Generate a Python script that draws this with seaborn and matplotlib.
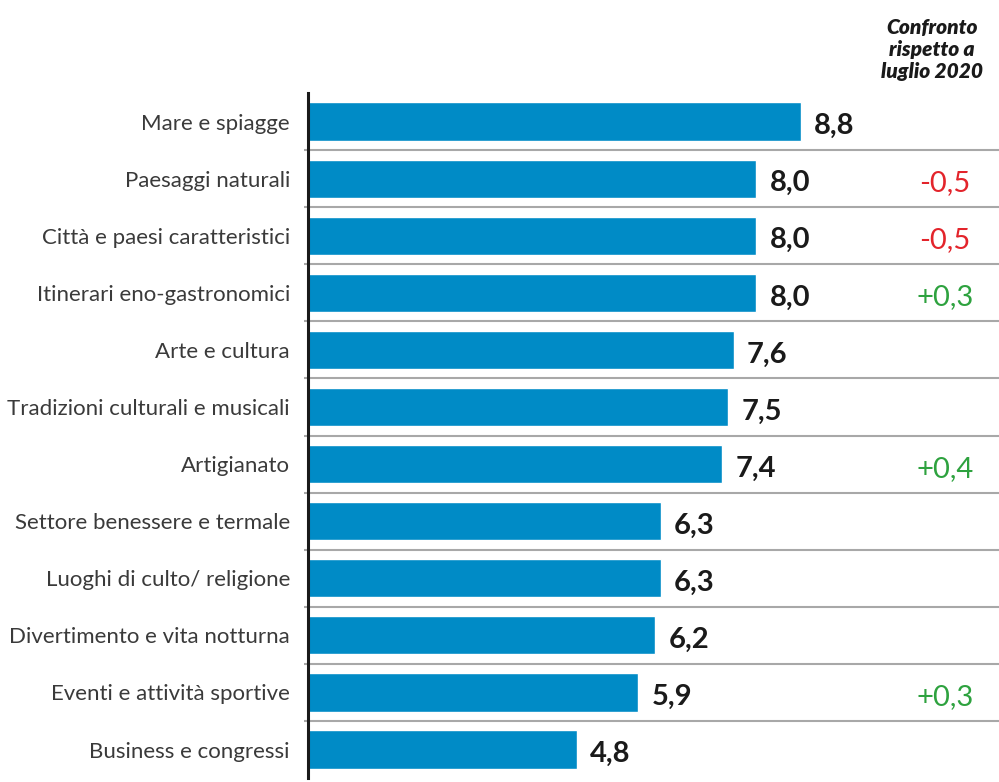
import numpy as np
import pandas as pd
import matplotlib.pyplot as plt
import seaborn as sns

# Data
categories = ['Mare e spiagge', 'Paesaggi naturali', 'Città e paesi caratteristici',
              'Itinerari eno-gastronomici', 'Arte e cultura', 'Tradizioni culturali e musicali',
              'Artigianato', 'Settore benessere e termale', 'Luoghi di culto/ religione',
              'Divertimento e vita notturna', 'Eventi e attività sportive', 'Business e congressi']
scores = [8.8, 8.0, 8.0, 8.0, 7.6, 7.5, 7.4, 6.3, 6.3, 6.2, 5.9, 4.8]
changes = [None, -0.5, -0.5, 0.3, None, None, 0.4, None, None, None, 0.3, None]

df = pd.DataFrame({'categoria': categories, 'punteggio': scores})

sns.set_style('white')
plt.rcParams['font.family'] = ['Lato', 'DejaVu Sans']

fig = plt.figure(figsize=(9.99, 7.82), dpi=100)
ax = fig.add_axes([0.3083, 0.005, 0.6917, 0.876])

sns.barplot(data=df, x='punteggio', y='categoria', orient='h', color='#008BC6',
            saturation=1, width=0.67, ax=ax)

ax.set_xlim(0, 12.34)
ax.set_ylim(11.5, -0.5)
ax.set_xlabel('')
ax.set_ylabel('')
ax.set_xticks([])
ax.tick_params(axis='y', length=0, pad=13, labelsize=16, labelcolor='#3a3a3a')

for side in ['top', 'right', 'bottom']:
    ax.spines[side].set_visible(False)
ax.spines['left'].set_color('#1a1a1a')
ax.spines['left'].set_linewidth(2.2)

# row separators
ax.hlines(np.arange(0.5, len(categories) - 1), -0.08, 12.34, color='#A8A8A8',
          lw=1.5, clip_on=False, zorder=0)

# value labels
for i, v in enumerate(scores):
    ax.text(v + 0.24, i + 0.08, f'{v:.1f}'.replace('.', ','), va='center', ha='left',
            fontsize=21, fontweight='bold', color='#1a1a1a')

# comparison column
for i, c in enumerate(changes):
    if c is None:
        continue
    col = '#E3242B' if c < 0 else '#2EA23F'
    ax.text(11.37, i + 0.08, f'{c:+.1f}'.replace('.', ','), va='center', ha='center',
            fontsize=21, color=col)

fig.text(0.933, 0.937, 'Confronto\nrispetto a\nluglio 2020', ha='center', va='center',
         fontsize=15, fontweight='heavy', fontstyle='italic', color='#1a1a1a',
         linespacing=1.2)

fig.savefig('out.png', dpi=100)
